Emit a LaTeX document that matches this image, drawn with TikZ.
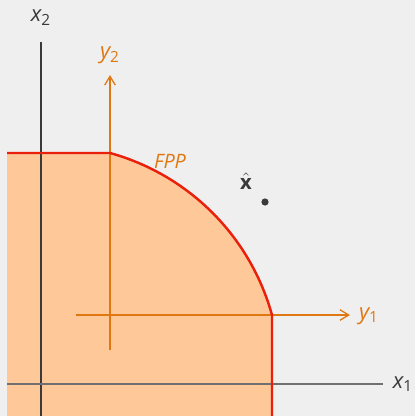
\documentclass[tikz,border=0pt]{standalone}
\usepackage{fontspec}
\setmainfont{Open Sans}
\usetikzlibrary{arrows.meta}
\definecolor{bg}{HTML}{EFEFEF}
\definecolor{fpp}{HTML}{FFC898}
\definecolor{edge}{HTML}{E8200C}
\definecolor{ora}{HTML}{E07812}
\definecolor{txt}{HTML}{3A3A3A}
\definecolor{axg}{HTML}{707070}
\begin{document}
\begin{tikzpicture}[x=0.02cm,y=-0.02cm,
  oaxis/.style={draw=ora,line width=0.75pt},
  otip/.style={-{Straight Barb[length=5pt,width=6pt,line width=0.75pt]}},
  lab/.style={inner sep=0pt,font=\fontsize{12.5}{14}\selectfont\itshape},
  ]
\fill[bg] (0,0) rectangle (415,416);
\useasboundingbox (0,0) rectangle (415,416);
% feasible region
\coordinate (tl) at (7,153);
\coordinate (k1) at (110,153);
\coordinate (k2) at (272,315);
\coordinate (br) at (272,416);
\coordinate (bl) at (7,416);
\fill[fpp] (tl) -- (k1) arc[start angle=-74.53, end angle=-15.47, radius=232.4] -- (br) -- (bl) -- cycle;
% x axes
\coordinate (x2b) at (41,416);
\coordinate (x2t) at (41,42);
\coordinate (x1l) at (7,384);
\coordinate (x1r) at (383,384);
\draw[txt,line width=0.8pt] (x2b) -- (x2t);
\draw[axg,line width=1.2pt] (x1l) -- (x1r);
\node[lab,txt] (x2) at (41,18) {x\textsubscript{\upshape 2}};
\node[lab,txt] (x1) at (403,384) {x\textsubscript{\upshape 1}};
% y axes
\coordinate (y2b) at (110,350);
\coordinate (y2t) at (110,75);
\coordinate (y1l) at (76,315);
\coordinate (y1r) at (350,315);
\draw[oaxis,otip] (y2b) -- (y2t);
\draw[oaxis,otip] (y1l) -- (y1r);
\node[lab,ora] (y2) at (110,55) {y\textsubscript{\upshape 2}};
\node[lab,ora] (y1) at (369,316) {y\textsubscript{\upshape 1}};
% boundary
\draw[edge,line width=1.4pt] (tl) -- (k1) arc[start angle=-74.53, end angle=-15.47, radius=232.4] -- (br);
\node[lab,ora,font=\fontsize{11.3}{13}\selectfont\itshape] (fpplab) at (170,161) {FPP};
% point
\node[inner sep=0pt,txt,font=\fontsize{11.5}{13}\selectfont\bfseries] (xhatlab) at (246,181) {$\hat{\textbf{x}}$};
\fill[txt] (265,202) circle[radius=3.6] coordinate (xhat);
\end{tikzpicture}
\end{document}
